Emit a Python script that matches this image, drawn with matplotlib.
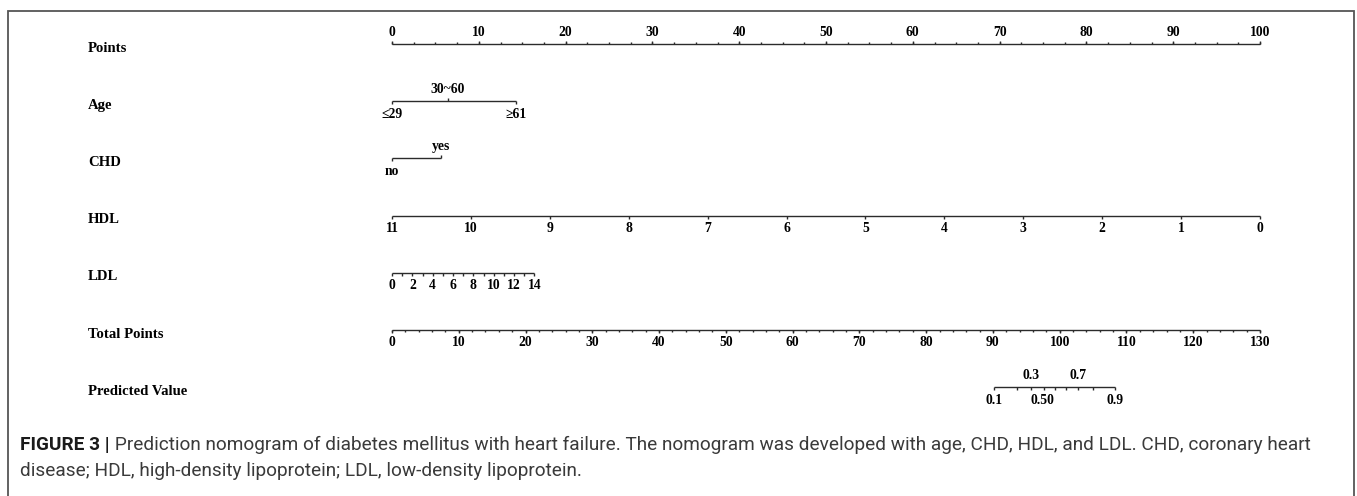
import numpy as np
import matplotlib.pyplot as plt
from matplotlib.patches import Rectangle

# ---- values (all in "Points" units unless noted) ----
points_major = np.arange(0, 101, 10)
points_minor = np.arange(0, 100.1, 2.5)

age_labels = ["≤29", "30~60", "≥61"]
age_points = [0, 6.4, 14.3]
age_above = [False, True, False]

chd_labels = ["no", "yes"]
chd_points = [0, 5.6]
chd_above = [False, True]

hdl_values = np.arange(11, -1, -1)      # 11 scores 0 points, 0 scores 100
hdl_top = 11

ldl_values = np.arange(0, 15)
ldl_labelled = np.arange(0, 15, 2)
ldl_points_at_14 = 16.4

total_major = np.arange(0, 131, 10)
total_minor = np.arange(0, 130.1, 2)
total_max = 130

pred_ticks = [0.1, 0.2, 0.3, 0.4, 0.5, 0.6, 0.7, 0.8, 0.9]
pred_labels = ["0.1", "0.3", "0.50", "0.7", "0.9"]
pred_label_vals = [0.1, 0.3, 0.5, 0.7, 0.9]
pred_above = [False, True, False, True, False]
lp_intercept = -24.10   # logit(p) = intercept + slope * total points
lp_slope = 0.2428

row_names = ["Points", "Age", "CHD", "HDL", "LDL", "Total Points", "Predicted Value"]

caption_bold = "FIGURE 3 |"
caption_1 = (" Prediction nomogram of diabetes mellitus with heart failure. The nomogram was "
             "developed with age, CHD, HDL, and LDL. CHD, coronary heart")
caption_2 = "disease; HDL, high-density lipoprotein; LDL, low-density lipoprotein."

# ---- layout ----
W, H = 1357, 496
X0 = 392          # pixel where 0 points sits
PPT = 8.68        # pixels per point
row_y = 44 + 57.2 * np.arange(len(row_names))
LC = "#2b2b2b"
LW = 1.0
serif = dict(family="Liberation Serif", fontweight="bold", color="black")

fig = plt.figure(figsize=(W / 100, H / 100), dpi=100)
ax = fig.add_axes([0, 0, 1, 1])
ax.set_xlim(-X0 / PPT, (W - X0) / PPT)
ax.set_ylim(H, 0)
ax.axis("off")


def axis_line(y, x0, x1):
    ax.plot([x0, x1], [y, y], color=LC, lw=LW, solid_capstyle="butt")


def ticks(y, xs, up, length=3):
    ax.vlines(xs, y, y - length if up else y + length, color=LC, lw=LW)


def labels(y, xs, texts, up, ha="center"):
    for x, t in zip(xs, texts):
        ax.text(x, y - 11.5 if up else y + 13, t, ha=ha, va="center", fontsize=9.8, **serif)


# row names
for name, y in zip(row_names, row_y):
    ax.text((88 - X0) / PPT, y + 4, name, ha="left", va="center", fontsize=10.6, **serif)

# Points
y = row_y[0]
axis_line(y, 0, 100)
ticks(y, points_minor, True, 2)
ticks(y, points_major, True, 3)
labels(y, points_major, [str(v) for v in points_major], True)

# Age / CHD (categorical)
for y, pts, labs, above in [(row_y[1], age_points, age_labels, age_above),
                            (row_y[2], chd_points, chd_labels, chd_above)]:
    axis_line(y, min(pts), max(pts))
    for x, lab, up in zip(pts, labs, above):
        ticks(y, [x], up, 3)
        labels(y, [x], [lab], up)

# HDL
y = row_y[3]
hdl_x = (hdl_top - hdl_values) * 100 / hdl_top
axis_line(y, hdl_x.min(), hdl_x.max())
ticks(y, hdl_x, False, 3)
labels(y, hdl_x, [str(v) for v in hdl_values], False)

# LDL
y = row_y[4]
ldl_x = ldl_values * ldl_points_at_14 / 14
axis_line(y, ldl_x.min(), ldl_x.max())
ticks(y, ldl_x, False, 3)
labels(y, ldl_labelled * ldl_points_at_14 / 14, [str(v) for v in ldl_labelled], False)

# Total Points
y = row_y[5]
axis_line(y, 0, 100)
ticks(y, total_minor * 100 / total_max, False, 2)
ticks(y, total_major * 100 / total_max, False, 3)
labels(y, total_major * 100 / total_max, [str(v) for v in total_major], False)


# Predicted Value (logistic link)
def prob_to_x(p):
    p = np.asarray(p)
    tp = (np.log(p / (1 - p)) - lp_intercept) / lp_slope
    return tp * 100 / total_max


y = row_y[6]
px = prob_to_x(pred_ticks)
axis_line(y, px.min(), px.max())
ticks(y, px, False, 3)
for v, lab, up in zip(pred_label_vals, pred_labels, pred_above):
    labels(y, [prob_to_x(v)], [lab], up, ha="right" if lab == "0.50" else "center")

# frame around the figure panel
fig.add_artist(Rectangle((8 / W, -0.05), (1354 - 8) / W, 1.05 - 11 / H,
                         transform=fig.transFigure, fill=False, ec="#555555", lw=1.3))

# caption
cap = dict(family="Roboto", fontsize=13.7, va="center")
t1 = fig.text(20 / W, 1 - 445 / H, caption_bold, fontweight="bold", color="#1a1a1a", **cap)
ax.annotate(caption_1, xy=(1, 0), xycoords=t1, va="bottom", ha="left",
            family="Roboto", fontsize=13.7, color="#3a3a3a")
fig.text(20 / W, 1 - 471 / H, caption_2, color="#3a3a3a", **cap)

fig.savefig("out.png", dpi=100)
